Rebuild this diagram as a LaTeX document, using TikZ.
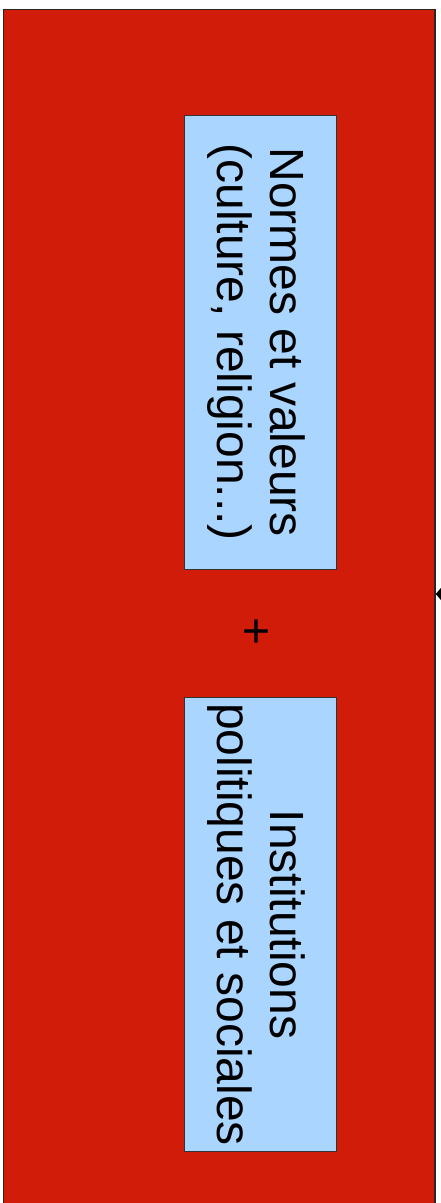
\documentclass[tikz,border=0pt]{standalone}
\usepackage{fontspec}
\setmainfont{Liberation Sans}
\usetikzlibrary{arrows.meta,calc}
\definecolor{redfill}{RGB}{208,28,8}
\definecolor{bluefill}{RGB}{170,213,255}
\begin{document}
\begin{tikzpicture}[x=1pt,y=-1pt,
  outerbox/.style={draw=black!85,line width=1.5pt,fill=redfill,rectangle,inner sep=0pt,minimum width=431.5pt,minimum height=1202pt},
  bluebox/.style={draw=black!80,line width=1pt,fill=bluefill,rectangle,inner sep=0pt,minimum width=151.5pt,minimum height=454pt},
  lbl/.style={rotate=-90,align=center,font=\fontsize{48}{53}\selectfont,inner sep=0pt},
  link/.style={-{Triangle[length=7pt,width=16pt]},line width=1.5pt}]
\useasboundingbox (0,0) rectangle (440,1203);
\node[outerbox] (outer) at (219.25,610.5) {};
\node[bluebox] (b1) at (260.25,342.25) {};
\node[bluebox] (b2) at (260.25,924.5) {};
\node[lbl] (t1) at ($(b1.center)+(-4,0)$) {Normes et valeurs\\(culture, religion...)};
\node[lbl] (t2) at ($(b2.center)+(-4,0)$) {Institutions\\politiques et sociales};
\node[lbl] (plus) at (254,632) {+};
\coordinate (src) at (480,594);
\draw[link] (src) -- (src -| outer.east);
\end{tikzpicture}
\end{document}
